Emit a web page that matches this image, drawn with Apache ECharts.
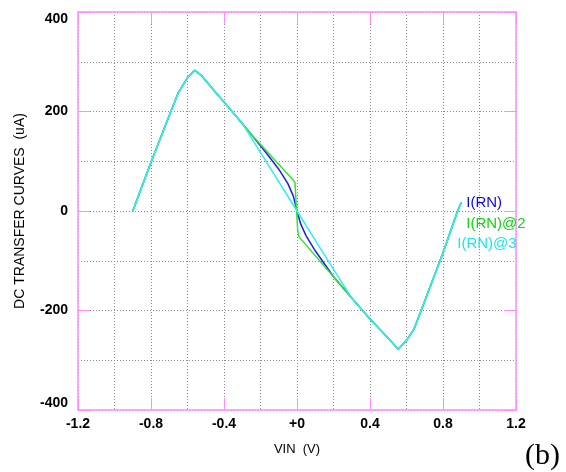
<!DOCTYPE html>
<html>
<head>
<meta charset="utf-8">
<script src="https://cdn.jsdelivr.net/npm/echarts@6/dist/echarts.min.js"></script>
<style>
  html, body { margin: 0; padding: 0; background: #fff; }
  #main { width: 566px; height: 472px; }
</style>
</head>
<body>
<div id="main"></div>
<script>
  // shared part of the three traces (VIN in V, current in uA)
  var vinLeft = [-0.9, -0.8, -0.7, -0.65, -0.6, -0.56, -0.52, -0.45, -0.4, -0.3];
  var iLeft = [0, 98, 192, 238, 268, 283, 271, 240, 219, 176];
  var vinRight = [0.3, 0.4, 0.46, 0.52, 0.555, 0.6, 0.64, 0.7, 0.8, 0.88, 0.9];
  var iRight = [-175, -217, -240, -264, -278, -260, -238, -181, -84, 0, 17];

  // middle part, one per trace
  var vinMid1 = [-0.26, -0.2, -0.15, -0.1, -0.05, -0.02, 0, 0.02, 0.05, 0.1, 0.15, 0.2, 0.26];
  var iMid1 = [158, 131, 108, 84, 55, 30, 0, -26, -50, -80, -106, -132, -158];
  var vinMid2 = [-0.26, -0.02, -0.011, 0.004, 0.011, 0.26];
  var iMid2 = [158, 62, 57, -40, -52, -158];
  var vinMid3 = [-0.15, 0, 0.15];
  var iMid3 = [88, 0, -88];

  var seriesNames = ['I(RN)', 'I(RN)@2', 'I(RN)@3'];
  var xTicks = ['-1.2', '-0.8', '-0.4', '+0', '0.4', '0.8', '1.2'];

  function pairs (xs, ys) {
    return xs.map(function (x, i) { return [x, ys[i]] })
  }
  function trace (vinMid, iMid) {
    return pairs(vinLeft, iLeft).concat(pairs(vinMid, iMid), pairs(vinRight, iRight))
  }

  var font = 'Arial, "Liberation Sans", sans-serif';
  var pink = '#ff8cff';
  var colors = ['#1c1cf0', '#2ee82e', '#2ef0f0'];
  var labelColors = ['#0a0ae6', '#14d214', '#1ee6e6'];
  var labelOffsets = [[-3, 0], [-3, 21], [-12, 41]];
  var datas = [trace(vinMid1, iMid1), trace(vinMid2, iMid2), trace(vinMid3, iMid3)];

  var gridDot = { show: true, lineStyle: { color: '#8c8c8c', type: [1, 2], width: 1 } };

  var myChart = echarts.init(document.getElementById('main'));
  var option = {
    animation: false,
    grid: { left: 78, right: 50, top: 12, bottom: 62 },
    xAxis: [
      {
        type: 'value',
        min: -1.2, max: 1.2, interval: 0.4,
        name: 'VIN  (V)',
        nameLocation: 'middle',
        nameGap: 33,
        nameTextStyle: { color: '#000', fontSize: 13, fontFamily: font },
        axisLine: { show: true, onZero: false, lineStyle: { color: pink, width: 1.5 } },
        axisTick: { show: true, inside: true, length: 12, lineStyle: { color: pink } },
        axisLabel: {
          color: '#000', fontSize: 14, fontWeight: 'bold', fontFamily: font, margin: 7,
          formatter: function (v) { return xTicks[Math.round((v + 1.2) / 0.4)] }
        },
        splitLine: gridDot,
        minorTick: { show: false, splitNumber: 2 },
        minorSplitLine: gridDot
      },
      {
        type: 'value', position: 'top',
        min: -1.2, max: 1.2, interval: 0.4,
        axisLine: { show: true, onZero: false, lineStyle: { color: pink, width: 1.5 } },
        axisTick: { show: true, inside: true, length: 12, lineStyle: { color: pink } },
        axisLabel: { show: false },
        splitLine: { show: false }
      }
    ],
    yAxis: [
      {
        type: 'value',
        min: -400, max: 400, interval: 200,
        name: 'DC TRANSFER CURVES  (uA)',
        nameLocation: 'middle',
        nameGap: 51,
        nameTextStyle: { color: '#000', fontSize: 14, fontFamily: font },
        axisLine: { show: true, onZero: false, lineStyle: { color: pink, width: 1.5 } },
        axisTick: { show: true, inside: true, length: 12, lineStyle: { color: pink } },
        axisLabel: {
          color: '#000', fontSize: 14, fontWeight: 'bold', fontFamily: font, margin: 10,
          verticalAlignMaxLabel: 'top', verticalAlignMinLabel: 'bottom'
        },
        splitLine: gridDot,
        minorTick: { show: false, splitNumber: 2 },
        minorSplitLine: gridDot
      },
      {
        type: 'value', position: 'right',
        min: -400, max: 400, interval: 200,
        axisLine: { show: true, onZero: false, lineStyle: { color: pink, width: 1.5 } },
        axisTick: { show: true, inside: true, length: 12, lineStyle: { color: pink } },
        axisLabel: { show: false },
        splitLine: { show: false }
      }
    ],
    graphic: [
      {
        type: 'text', left: 525, top: 441,
        style: { text: '(b)', fill: '#000', font: '30px "Times New Roman", "Liberation Serif", serif' }
      }
    ],
    series: seriesNames.map(function (name, k) {
      return {
        name: name,
        type: 'line',
        xAxisIndex: 0,
        yAxisIndex: 0,
        showSymbol: false,
        symbol: 'none',
        color: colors[k],
        lineStyle: { width: 1.5, color: colors[k] },
        endLabel: {
          show: true,
          formatter: name,
          color: labelColors[k],
          fontSize: 15,
          fontFamily: font,
          offset: labelOffsets[k]
        },
        data: datas[k]
      }
    })
  };
  myChart.setOption(option);
</script>
</body>
</html>
